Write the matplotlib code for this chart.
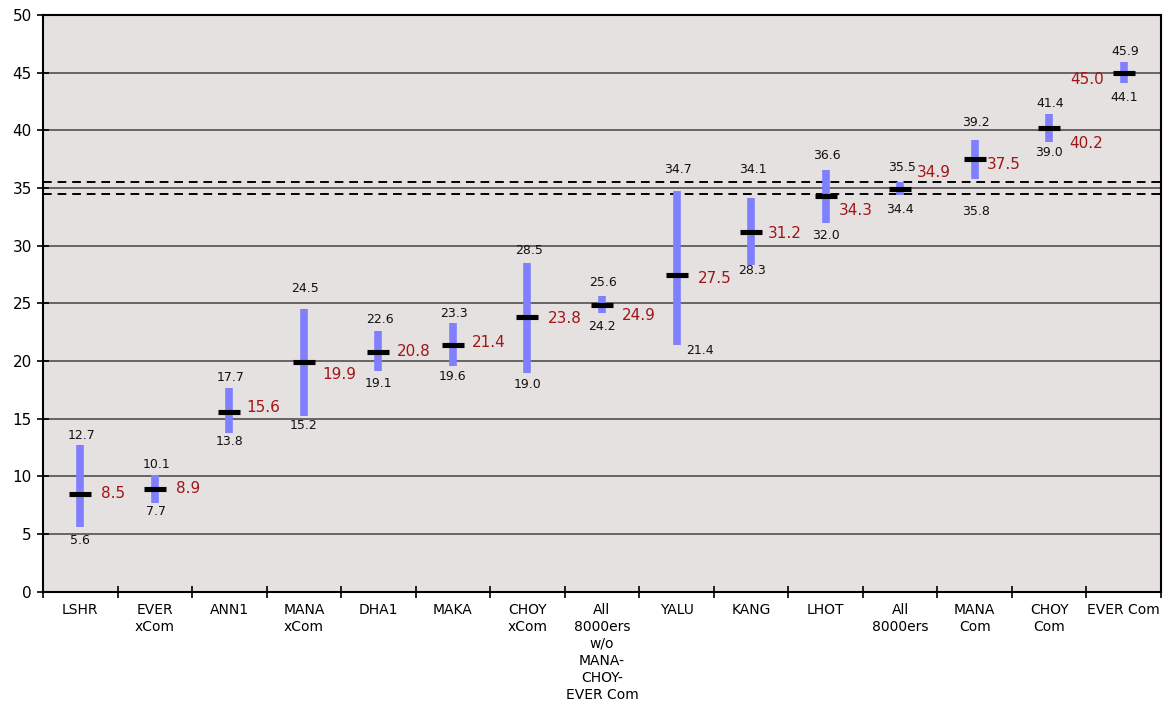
import numpy as np
import matplotlib
matplotlib.use("Agg")
import matplotlib.pyplot as plt

# ---- data ----
categories = ["LSHR", "EVER\nxCom", "ANN1", "MANA\nxCom", "DHA1", "MAKA", "CHOY\nxCom",
              "All\n8000ers\nw/o\nMANA-\nCHOY-\nEVER Com", "YALU", "KANG", "LHOT",
              "All\n8000ers", "MANA\nCom", "CHOY\nCom", "EVER Com"]
mean_vals = [8.5, 8.9, 15.6, 19.9, 20.8, 21.4, 23.8, 24.9, 27.5, 31.2, 34.3, 34.9, 37.5, 40.2, 45.0]
high_vals = [12.7, 10.1, 17.7, 24.5, 22.6, 23.3, 28.5, 25.6, 34.7, 34.1, 36.6, 35.5, 39.2, 41.4, 45.9]
low_vals = [5.6, 7.7, 13.8, 15.2, 19.1, 19.6, 19.0, 24.2, 21.4, 28.3, 32.0, 34.4, 35.8, 39.0, 44.1]
ref_band = [34.5, 35.5]
y_ticks = list(range(0, 55, 5))

# ---- label placement (pixel offsets) ----
hi_dy = [10, 11, 10, 21, 12, 9, 12, 14, 22, 29, 14, 15, 17, 11, 11]
lo_dy = [13, 9, 9, 9, 12, 11, 12, 14, 6, 5, 13, 15, 33, 11, 14]
lo_dx = [0, 1, 0, 0, 0, 0, 0, 0, 23, 1, 0, 0, 1, 0, 0]
mean_dx = [33, 33, 34, 35, 35, 36, 37, 37, 38, 34, 30, 34, 29, 37, -37]
mean_dy = [0, -1, -4, 12, 0, -2, 1, 11, 4, 2, 14, -17, 5, 15, 7]

PX = 0.72  # points per pixel at dpi 100

bg = "#E6E1E1"
bar_color = "#8080FF"
red = "#A01515"

fig = plt.figure(figsize=(11.65, 7.04), dpi=100)
ax = fig.add_axes([43 / 1165, (704 - 591.7) / 704, 1118 / 1165, 576.7 / 704])
ax.set_facecolor(bg)

x = np.arange(len(categories))
ax.set_xlim(-0.5, len(categories) - 0.5)
ax.set_ylim(0, 50)

# grid
for yv in y_ticks[1:-1]:
    ax.axhline(yv, color="#505050", lw=1.2, zorder=1)
for yv in ref_band:
    ax.axhline(yv, color="black", lw=1.4, ls=(0, (4.5, 3)), zorder=1)

# range bars
ax.vlines(x, low_vals, high_vals, color=bar_color, lw=5.5, zorder=2)
# mean markers
ax.scatter(x, mean_vals, marker="_", s=22 * 22 * PX * PX, linewidths=4 * PX + 0.8,
           color="black", zorder=3)

for i in range(len(categories)):
    ax.annotate(f"{high_vals[i]:.1f}", (x[i], high_vals[i]), xytext=(1, hi_dy[i] * PX),
                textcoords="offset points", ha="center", va="center", fontsize=9,
                color="#111111", zorder=4)
    ax.annotate(f"{low_vals[i]:.1f}", (x[i], low_vals[i]), xytext=(lo_dx[i] * PX, -lo_dy[i] * PX),
                textcoords="offset points", ha="center", va="center", fontsize=9,
                color="#111111", zorder=4)
    ax.annotate(f"{mean_vals[i]:.1f}", (x[i], mean_vals[i]),
                xytext=(mean_dx[i] * PX, -mean_dy[i] * PX),
                textcoords="offset points", ha="center", va="center", fontsize=11,
                color=red, zorder=4)

# axes styling
ax.set_yticks(y_ticks)
ax.set_yticklabels([str(v) for v in y_ticks], fontsize=11)
ax.tick_params(axis="y", direction="inout", length=8, width=1.2, pad=4, colors="black")

ax.set_xticks(np.arange(-0.5, len(categories), 1))
ax.set_xticklabels([])
ax.tick_params(axis="x", which="major", direction="inout", length=8, width=1.2)
ax.set_xticks(x, minor=True)
ax.set_xticklabels(categories, minor=True, fontsize=10, linespacing=1.28)
ax.tick_params(axis="x", which="minor", length=0, pad=8)

for s in ax.spines.values():
    s.set_color("black")
    s.set_linewidth(1.5)

fig.savefig("out.png", dpi=100, facecolor="white")
